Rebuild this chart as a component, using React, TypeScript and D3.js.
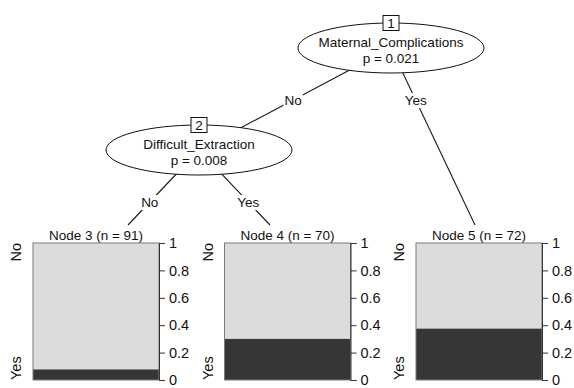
import React, { useEffect, useRef } from 'react';
import * as d3 from 'd3';

// inner (split) nodes
const innerIds = [1, 2];
const innerVars = ['Maternal_Complications', 'Difficult_Extraction'];
const innerP = ['0.021', '0.008'];

// terminal nodes
const terminalIds = [3, 4, 5];
const terminalN = [91, 70, 72];
const propYes = [0.077, 0.3, 0.375];
const classes = ['No', 'Yes'];

// edges: parent -> child with label
const edgeFrom = [1, 1, 2, 2];
const edgeTo = [2, 5, 3, 4];
const edgeLabels = ['No', 'Yes', 'No', 'Yes'];

const yTicks = [0, 0.2, 0.4, 0.6, 0.8, 1];

const App = () => {
  const chartRef = useRef(null);

  useEffect(() => {
    const width = 574;
    const height = 388;
    const font = '"Liberation Sans", Arial, Helvetica, sans-serif';
    const fs = 13.5;
    const axisFs = 14.5;
    const lightCol = '#dcdcdc';
    const darkCol = '#363636';

    // layout of the tree
    const innerPos = { 1: { x: 391, y: 48 }, 2: { x: 199, y: 150 } };
    const rx = 93;
    const ry = 25;
    const boxW = 126;
    const boxTop = 243;
    const boxBottom = 380;
    const termX = d3.scaleLinear().domain([0, 2]).range([33, 416]); // left edge of each panel
    const termTop = { 3: { x: 128, y: 225 }, 4: { x: 270, y: 225 }, 5: { x: 475, y: 225 } };
    const edgeLabelY = { 1: 100, 2: 202 };

    const svg = d3.select(chartRef.current)
      .append('svg')
      .attr('width', width)
      .attr('height', height)
      .style('position', 'absolute')
      .style('left', 0)
      .style('top', 0)
      .style('font-family', font)
      .style('font-size', fs + 'px');

    svg.append('rect').attr('width', width).attr('height', height).attr('fill', '#fff');

    // edges
    edgeFrom.forEach((from, i) => {
      const to = edgeTo[i];
      const p0 = innerPos[from];
      const p1 = innerPos[to] ? innerPos[to] : termTop[to];
      svg.append('line')
        .attr('x1', p0.x).attr('y1', p0.y)
        .attr('x2', p1.x).attr('y2', p1.y)
        .attr('stroke', '#1a1a1a')
        .attr('stroke-width', 1.1);

      const ly = edgeLabelY[from];
      const t = (ly - p0.y) / (p1.y - p0.y);
      const lx = p0.x + t * (p1.x - p0.x);
      const g = svg.append('g');
      const txt = g.append('text')
        .attr('x', lx)
        .attr('y', ly + 5)
        .attr('text-anchor', 'middle')
        .attr('fill', '#111')
        .text(edgeLabels[i]);
      const bb = txt.node().getBBox();
      g.insert('rect', 'text')
        .attr('x', bb.x - 1)
        .attr('y', bb.y)
        .attr('width', bb.width + 2)
        .attr('height', bb.height)
        .attr('fill', '#fff');
    });

    // inner nodes
    innerIds.forEach((id, i) => {
      const p = innerPos[id];
      svg.append('ellipse')
        .attr('cx', p.x).attr('cy', p.y)
        .attr('rx', rx).attr('ry', ry)
        .attr('fill', '#fff')
        .attr('stroke', '#111')
        .attr('stroke-width', 1);
      svg.append('text')
        .attr('x', p.x).attr('y', p.y - 1.5)
        .attr('text-anchor', 'middle')
        .attr('fill', '#111')
        .text(innerVars[i]);
      svg.append('text')
        .attr('x', p.x).attr('y', p.y + 15)
        .attr('text-anchor', 'middle')
        .attr('fill', '#111')
        .text(`p = ${innerP[i]}`);
      svg.append('rect')
        .attr('x', p.x - 8).attr('y', p.y - ry - 7.5)
        .attr('width', 16).attr('height', 15)
        .attr('fill', '#fff')
        .attr('stroke', '#111');
      svg.append('text')
        .attr('x', p.x).attr('y', p.y - ry + 5)
        .attr('text-anchor', 'middle')
        .attr('fill', '#111')
        .text(id);
    });

    // terminal nodes
    const y = d3.scaleLinear().domain([0, 1]).range([boxBottom, boxTop]);

    terminalIds.forEach((id, i) => {
      const x0 = termX(i);
      const g = svg.append('g');

      g.append('text')
        .attr('x', x0 + boxW / 2)
        .attr('y', boxTop - 3)
        .attr('text-anchor', 'middle')
        .attr('fill', '#111')
        .text(`Node ${id} (n = ${terminalN[i]})`);

      // stacked bar: Yes at the bottom, No on top
      g.append('rect')
        .attr('x', x0).attr('y', y(1))
        .attr('width', boxW).attr('height', y(propYes[i]) - y(1))
        .attr('fill', lightCol);
      g.append('rect')
        .attr('x', x0).attr('y', y(propYes[i]))
        .attr('width', boxW).attr('height', y(0) - y(propYes[i]))
        .attr('fill', darkCol);
      g.append('rect')
        .attr('x', x0).attr('y', y(1))
        .attr('width', boxW).attr('height', y(0) - y(1))
        .attr('fill', 'none')
        .attr('stroke', '#7a7a7a');

      // right axis
      const axis = d3.axisRight(y)
        .tickValues(yTicks)
        .tickFormat(d => d3.format('')(+d.toFixed(1)))
        .tickSize(6)
        .tickPadding(4);
      const ag = g.append('g')
        .attr('transform', `translate(${x0 + boxW},0)`)
        .call(axis);
      ag.select('.domain').attr('stroke', '#333');
      ag.selectAll('.tick line').attr('stroke', '#333');
      ag.selectAll('.tick text')
        .attr('fill', '#111')
        .style('font-family', font)
        .style('font-size', axisFs + 'px');

      // class labels on the left
      g.append('text')
        .attr('transform', `translate(${x0 - 12},${boxTop}) rotate(-90)`)
        .attr('text-anchor', 'end')
        .attr('fill', '#111')
        .style('font-size', axisFs + 'px')
        .text(classes[0]);
      g.append('text')
        .attr('transform', `translate(${x0 - 12},${boxBottom}) rotate(-90)`)
        .attr('text-anchor', 'start')
        .attr('fill', '#111')
        .style('font-size', axisFs + 'px')
        .text(classes[1]);
    });

    return () => {
      d3.select(chartRef.current).selectAll('svg').remove();
    };
  }, []);

  return <div ref={chartRef} />;
};

export default App;
